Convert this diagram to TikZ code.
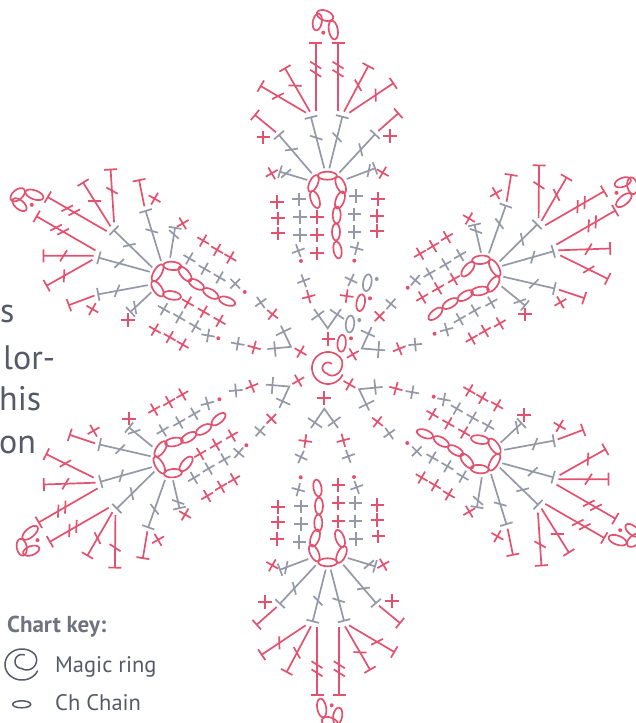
\documentclass[tikz,border=0pt]{standalone}
\usepackage{fontspec}
\setmainfont{PT Sans}
\definecolor{crRed}{HTML}{E2526E}
\definecolor{crGray}{HTML}{9598A6}
\definecolor{txtGray}{HTML}{565A68}
\tikzset{
  lineR/.style={draw=crRed,line width=1.7pt},
  lineG/.style={draw=crGray,line width=1.7pt},
  dotR/.style={fill=crRed,draw=none},
  dotG/.style={fill=crGray,draw=none},
  body/.style={font=\fontsize{34}{34}\selectfont,text=txtGray,anchor=base west,inner sep=0pt},
  keytext/.style={font=\fontsize{22.5}{22.5}\selectfont,text=txtGray,anchor=base west,inner sep=0pt},
  keyhead/.style={font=\fontsize{23}{23}\selectfont\bfseries,text=txtGray!85,anchor=base west,inner sep=0pt},
}
% #1 = style name throughout
\newcommand\stitb[5]{%
  \pgfmathsetmacro\stang{atan2(#5-#3,#4-#2)}%
  \pgfmathsetmacro\stlen{veclen(#4-#2,#5-#3)}%
  \path[#1] (#2,#3)--(#4,#5);
  \begin{scope}[shift={(#2,#3)},rotate=-\stang]
    \path[#1] (\stlen,-6.5)--(\stlen,6.5);
  \end{scope}}
\newcommand\stit[6]{%
  \stitb{#1}{#2}{#3}{#4}{#5}%
  \begin{scope}[shift={(#2,#3)},rotate=-\stang]
    \foreach \t in {#6}{\path[#1] ({\t*\stlen+3.5},-5.5)--({\t*\stlen-3.5},5.5);}
  \end{scope}}
\newcommand\crs[4]{\path[#1,shift={(#2,#3)},rotate=#4] (-6.8,0)--(6.8,0) (0,-6.8)--(0,6.8);}
\newcommand\ov[6]{\path[#1,rotate around={#6:(#2,#3)}] (#2,#3) ellipse (#4 and #5);}
\newcommand\dotp[3]{\path[#1] (#2,#3) circle (2);}
\newcommand\petal{%
    \ov{lineR}{317.3}{22}{4.5}{8.5}{-10}
    \ov{lineR}{325}{15.5}{8.5}{5}{-20}
    \ov{lineR}{333.3}{30}{4.5}{9.5}{10}
    \dotp{dotR}{323.3}{32.7}
    \stitb{lineR}{276}{132.3}{255}{115}
    \stit{lineR}{306}{112.7}{260.7}{86}{0.62}
    \stit{lineR}{310}{111.7}{285}{68.3}{0.6}
    \stit{lineR}{315.7}{110.7}{315.7}{42.7}{0.55,0.67}
    \stit{lineR}{338}{110.7}{338}{42.7}{0.55,0.67}
    \stit{lineR}{344}{111.7}{368.3}{66}{0.58}
    \stit{lineR}{349.3}{112.7}{393.3}{83.3}{0.6}
    \stitb{lineR}{378.3}{131}{398.3}{113.3}
    \crs{lineR}{271.7}{173.3}{30}
    \crs{lineR}{382.7}{172.7}{-30}
    \crs{lineR}{263.3}{137.3}{0}
    \crs{lineR}{390}{136}{0}
    \crs{lineR}{276.7}{201.7}{0}\crs{lineR}{277.7}{218.3}{0}\crs{lineR}{277.7}{233.3}{0}
    \crs{lineR}{316.7}{216.7}{0}\crs{lineR}{316.7}{235}{0}\crs{lineR}{316.7}{253.3}{0}
    \crs{lineR}{378}{199}{0}\crs{lineR}{377}{215.7}{0}\crs{lineR}{377}{231}{0}
    \dotp{dotR}{301}{261}\dotp{dotR}{354.3}{260.7}
    \ov{lineR}{327.3}{175.7}{9.5}{4}{0}
    \ov{lineR}{313.5}{183.5}{4.2}{9}{-25}
    \ov{lineR}{315}{199.5}{4.2}{9}{20}
    \ov{lineR}{340.7}{185}{4.2}{9}{25}
    \ov{lineR}{340}{200}{4.2}{9}{-20}
    \ov{lineR}{336.7}{215}{4}{8.5}{0}
    \ov{lineR}{336}{232}{4}{8.5}{0}
    \ov{lineR}{337.5}{250}{4}{8.5}{10}
    \stit{lineG}{307.3}{180}{280}{171.7}{0.78}
    \stit{lineG}{311.7}{173.3}{279}{135}{0.62}
    \stit{lineG}{324.3}{168.3}{311}{117.3}{0.6}
    \stit{lineG}{329.3}{168.3}{342.3}{116.7}{0.6}
    \stit{lineG}{339.3}{172.7}{375}{134.3}{0.6}
    \stit{lineG}{346.7}{179}{375}{168.3}{0.78}
    \crs{lineG}{299}{199.3}{0}\crs{lineG}{299.7}{216.7}{0}\crs{lineG}{299.7}{235}{0}\crs{lineG}{298.3}{250.7}{20}
    \crs{lineG}{355.7}{196}{0}\crs{lineG}{354.3}{214.3}{0}\crs{lineG}{354.3}{231.7}{0}\crs{lineG}{356.7}{248.3}{-15}
}
\newcommand\stem{%
    \crs{lineR}{308.7}{296.7}{15}
    \crs{lineR}{346.7}{296}{-8}
    \crs{lineR}{328.3}{339}{0}
    \crs{lineG}{303.7}{280.7}{20}
    \crs{lineG}{351}{280}{-25}
    \path[lineG] (314,309)--(327.7,328.3)--(341,309);
    \path[lineG] (311.5,320)--(324,311);
    \path[lineG] (330,309.5)--(344,319);
}
\begin{document}
\begin{tikzpicture}[x=1pt,y=-1pt]
  \useasboundingbox (0,0) rectangle (636,723);
  \clip (0,0) rectangle (636,723);
  \foreach \k/\dx/\dy in {0/0/0,60/2/-6,120/4/-4,180/5/2,240/2/3,300/-2/3}{
    \begin{scope}[shift={(\dx,\dy)},rotate around={-\k:(325,368)}]
      \petal
    \end{scope}
  }
  \foreach \k/\dx/\dy in {0/0/0,60/1/-2,120/1/-1,180/2/1,240/0/1,300/-1/1}{
    \begin{scope}[shift={(\dx,\dy)},rotate around={-\k:(325,368)}]
      \stem
    \end{scope}
  }
  \ov{lineR}{360.7}{302.7}{4.2}{8.5}{-10}\dotp{dotR}{370}{298.3}
  \ov{lineR}{341.7}{343.3}{4.2}{8.5}{-5}\dotp{dotR}{351}{338.3}
  \ov{lineG}{367.3}{282.7}{4.2}{8.5}{-10}\dotp{dotG}{376.7}{279}
  \ov{lineG}{350}{324}{4.2}{8.5}{-5}\dotp{dotG}{359.3}{320}
  % magic ring
  \path[lineR,line cap=round] plot[domain=25:670,samples=110,smooth,variable=\a]
    ({328+(16-10.5*min(1,max(0,(\a-330)/130)))*cos(\a)},{368+(16-10.5*min(1,max(0,(\a-330)/130)))*sin(\a)});
  % text
  \node[body] (t1) at (0,322) {s};
  \node[body] (t2) at (3,369) {lor-};
  \node[body] (t3) at (-1,410) {his};
  \node[body] (t4) at (-1,453) {on};
  \node[keyhead] (k0) at (7,632) {Chart key:};
  \node[keytext] (k1) at (55,672) {Magic ring};
  \node[keytext] (k2) at (55,710) {Ch Chain};
  \path[draw=txtGray,line width=1.5pt,line cap=round] plot[domain=25:650,samples=110,smooth,variable=\a]
    ({22+(17-10*min(1,max(0,(\a-320)/130)))*cos(\a)},{664.5-3*min(1,max(0,(\a-320)/130))+(15.5-8.5*min(1,max(0,(\a-320)/130)))*sin(\a)});
  \path[draw=txtGray,line width=1.5pt] (21.7,704.3) ellipse (9 and 3.5);
\end{tikzpicture}
\end{document}
